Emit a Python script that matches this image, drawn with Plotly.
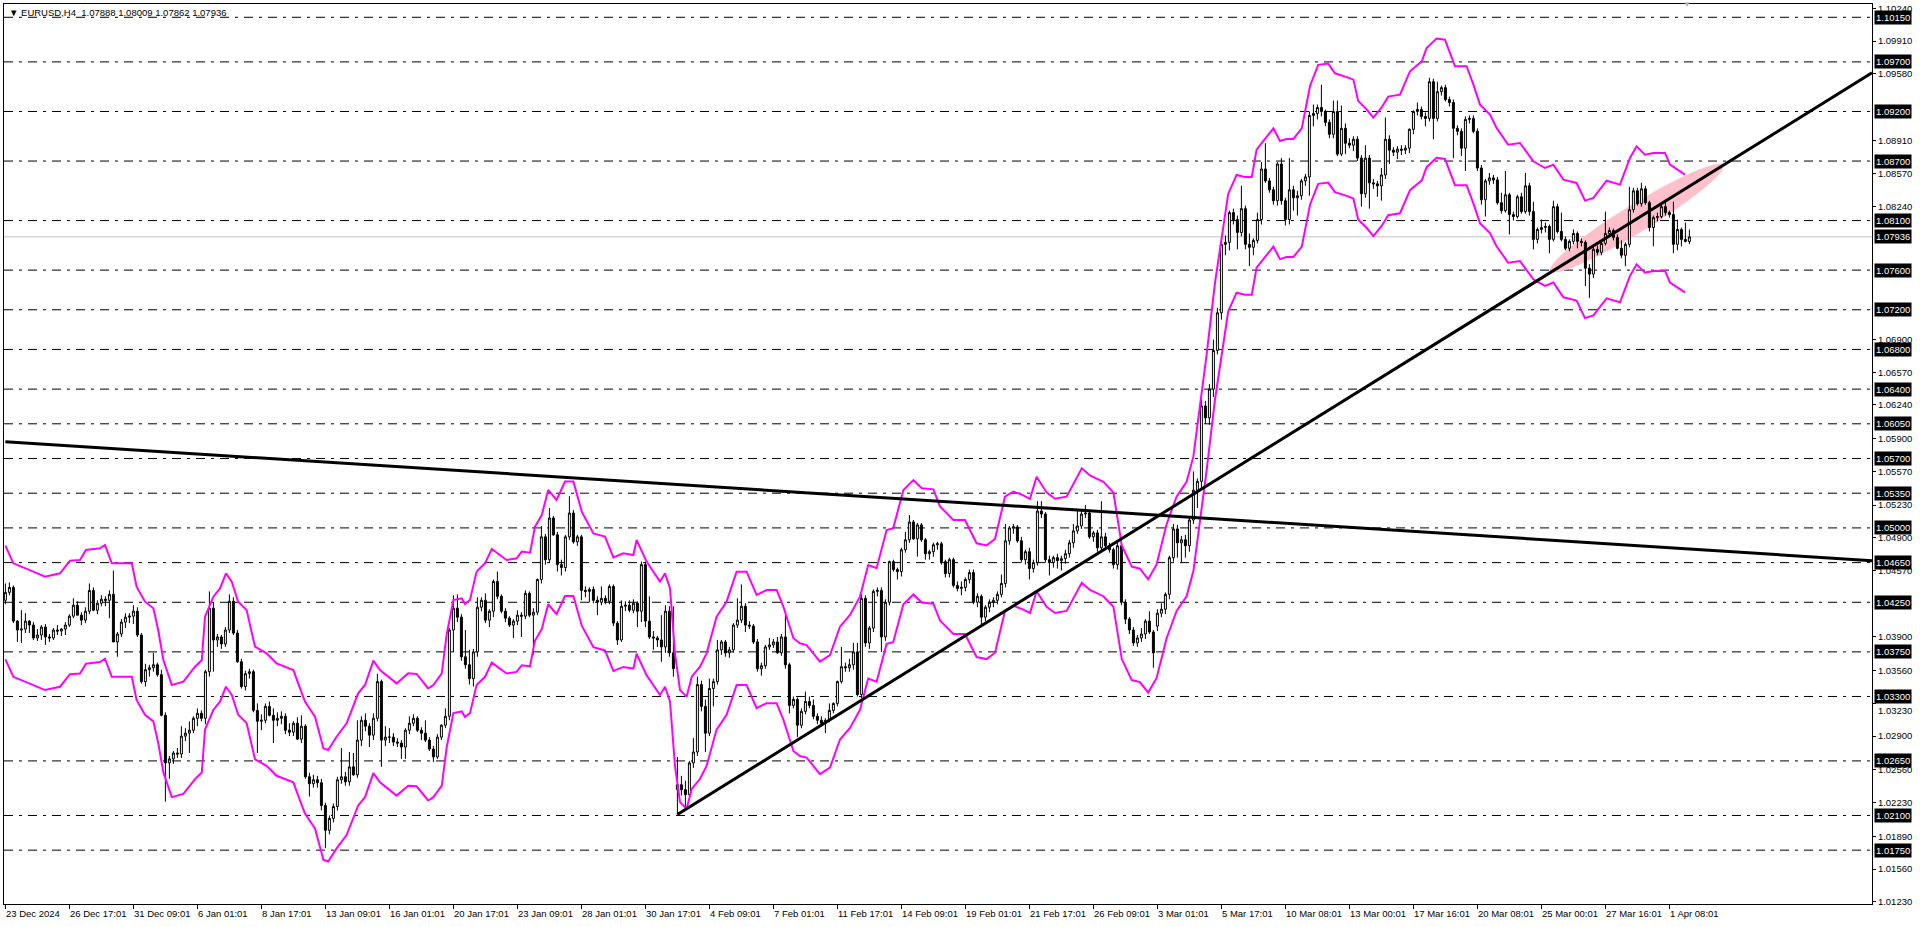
import math
import plotly.graph_objects as go

# ---------------- data ----------------
title_text = "EURUSD,H4"
last_ohlc = [1.07888, 1.08009, 1.07862, 1.07936]

opens = [
 1.0427, 1.0435, 1.0440, 1.0406, 1.0397, 1.0398, 1.0406, 1.0402, 1.0389, 1.0392,
 1.0400, 1.0390, 1.0389, 1.0397, 1.0396, 1.0398, 1.0402, 1.0411, 1.0422, 1.0412,
 1.0407, 1.0416, 1.0437, 1.0417, 1.0424, 1.0428, 1.0427, 1.0433, 1.0385, 1.0393,
 1.0405, 1.0410, 1.0411, 1.0416, 1.0392, 1.0345, 1.0357, 1.0359, 1.0362, 1.0352,
 1.0311, 1.0263, 1.0267, 1.0273, 1.0272, 1.0290, 1.0293, 1.0296, 1.0308, 1.0313,
 1.0308, 1.0355, 1.0419, 1.0387, 1.0390, 1.0383, 1.0397, 1.0426, 1.0394, 1.0365,
 1.0340, 1.0353, 1.0355, 1.0316, 1.0305, 1.0306, 1.0320, 1.0311, 1.0306, 1.0308,
 1.0310, 1.0296, 1.0294, 1.0303, 1.0287, 1.0300, 1.0249, 1.0242, 1.0246, 1.0243,
 1.0220, 1.0195, 1.0207, 1.0219, 1.0246, 1.0249, 1.0244, 1.0259, 1.0251, 1.0286,
 1.0306, 1.0300, 1.0291, 1.0308, 1.0345, 1.0286, 1.0289, 1.0289, 1.0284, 1.0283,
 1.0279, 1.0296, 1.0303, 1.0308, 1.0296, 1.0293, 1.0286, 1.0277, 1.0269, 1.0289,
 1.0301, 1.0310, 1.0397, 1.0419, 1.0410, 1.0370, 1.0362, 1.0348, 1.0375, 1.0420,
 1.0427, 1.0407, 1.0416, 1.0446, 1.0431, 1.0416, 1.0409, 1.0402, 1.0406, 1.0412,
 1.0411, 1.0434, 1.0412, 1.0415, 1.0448, 1.0491, 1.0468, 1.0510, 1.0493, 1.0463,
 1.0460, 1.0491, 1.0515, 1.0486, 1.0491, 1.0437, 1.0436, 1.0438, 1.0427, 1.0425,
 1.0429, 1.0426, 1.0441, 1.0404, 1.0387, 1.0421, 1.0422, 1.0417, 1.0424, 1.0416,
 1.0463, 1.0406, 1.0390, 1.0389, 1.0387, 1.0380, 1.0416, 1.0374, 1.0236, 1.0241,
 1.0236, 1.0231, 1.0263, 1.0274, 1.0342, 1.0320, 1.0293, 1.0338, 1.0345, 1.0377,
 1.0385, 1.0374, 1.0377, 1.0402, 1.0407, 1.0421, 1.0402, 1.0401, 1.0385, 1.0358,
 1.0361, 1.0380, 1.0382, 1.0385, 1.0374, 1.0390, 1.0362, 1.0321, 1.0327, 1.0301,
 1.0315, 1.0325, 1.0321, 1.0310, 1.0306, 1.0303, 1.0306, 1.0316, 1.0323, 1.0345,
 1.0360, 1.0359, 1.0362, 1.0375, 1.0332, 1.0429, 1.0384, 1.0399, 1.0436, 1.0437,
 1.0390, 1.0425, 1.0466, 1.0458, 1.0456, 1.0478, 1.0488, 1.0506, 1.0489, 1.0503,
 1.0488, 1.0474, 1.0476, 1.0483, 1.0484, 1.0466, 1.0454, 1.0468, 1.0442, 1.0439,
 1.0440, 1.0448, 1.0455, 1.0425, 1.0431, 1.0410, 1.0420, 1.0425, 1.0427, 1.0433,
 1.0444, 1.0487, 1.0500, 1.0501, 1.0487, 1.0468, 1.0476, 1.0459, 1.0465, 1.0517,
 1.0514, 1.0468, 1.0465, 1.0470, 1.0467, 1.0469, 1.0474, 1.0485, 1.0497, 1.0502,
 1.0514, 1.0515, 1.0491, 1.0495, 1.0480, 1.0491, 1.0482, 1.0478, 1.0463, 1.0482,
 1.0425, 1.0408, 1.0397, 1.0384, 1.0389, 1.0393, 1.0406, 1.0395, 1.0401, 1.0414,
 1.0418, 1.0433, 1.0470, 1.0499, 1.0485, 1.0488, 1.0482, 1.0508, 1.0538, 1.0547,
 1.0623, 1.0611, 1.0640, 1.0679, 1.0717, 1.0786, 1.0788, 1.0818, 1.0811, 1.0798,
 1.0822, 1.0786, 1.0783, 1.0790, 1.0811, 1.0862, 1.0850, 1.0841, 1.0830, 1.0867,
 1.0830, 1.0811, 1.0841, 1.0833, 1.0835, 1.0850, 1.0854, 1.0916, 1.0918, 1.0924,
 1.0920, 1.0909, 1.0897, 1.0920, 1.0877, 1.0903, 1.0888, 1.0886, 1.0892, 1.0873,
 1.0837, 1.0873, 1.0848, 1.0847, 1.0845, 1.0856, 1.0892, 1.0881, 1.0879, 1.0882,
 1.0881, 1.0883, 1.0902, 1.0920, 1.0922, 1.0915, 1.0913, 1.0950, 1.0913, 1.0940,
 1.0944, 1.0932, 1.0929, 1.0903, 1.0900, 1.0883, 1.0912, 1.0913, 1.0900, 1.0863,
 1.0831, 1.0850, 1.0853, 1.0851, 1.0828, 1.0820, 1.0836, 1.0816, 1.0814, 1.0834,
 1.0819, 1.0845, 1.0819, 1.0791, 1.0801, 1.0803, 1.0804, 1.0791, 1.0824, 1.0799,
 1.0791, 1.0782, 1.0789, 1.0797, 1.0789, 1.0788, 1.0762, 1.0756, 1.0781, 1.0778,
 1.0787, 1.0797, 1.0800, 1.0793, 1.0782, 1.0775, 1.0786, 1.0821, 1.0840, 1.0827,
 1.0842, 1.0828, 1.0803, 1.0813, 1.0814, 1.0824, 1.0818, 1.0816, 1.0786, 1.0801,
 1.0791, 1.07888,
]

highs = [
 1.0444, 1.0445, 1.0442, 1.0407, 1.0417, 1.0414, 1.0407, 1.0405, 1.0398, 1.0402,
 1.0403, 1.0393, 1.0399, 1.0402, 1.0399, 1.0405, 1.0413, 1.0429, 1.0426, 1.0415,
 1.0420, 1.0444, 1.0440, 1.0427, 1.0432, 1.0431, 1.0437, 1.0457, 1.0395, 1.0408,
 1.0414, 1.0414, 1.0422, 1.0420, 1.0394, 1.0363, 1.0362, 1.0374, 1.0364, 1.0357,
 1.0314, 1.0270, 1.0275, 1.0278, 1.0300, 1.0298, 1.0305, 1.0310, 1.0318, 1.0316,
 1.0357, 1.0436, 1.0425, 1.0393, 1.0392, 1.0400, 1.0433, 1.0430, 1.0397, 1.0368,
 1.0356, 1.0358, 1.0357, 1.0323, 1.0312, 1.0323, 1.0325, 1.0318, 1.0314, 1.0315,
 1.0313, 1.0303, 1.0305, 1.0309, 1.0311, 1.0302, 1.0253, 1.0251, 1.0250, 1.0247,
 1.0223, 1.0210, 1.0222, 1.0249, 1.0278, 1.0254, 1.0274, 1.0273, 1.0306, 1.0310,
 1.0313, 1.0303, 1.0313, 1.0353, 1.0347, 1.0300, 1.0298, 1.0293, 1.0288, 1.0286,
 1.0298, 1.0310, 1.0312, 1.0310, 1.0299, 1.0306, 1.0289, 1.0280, 1.0292, 1.0302,
 1.0318, 1.0399, 1.0432, 1.0433, 1.0413, 1.0397, 1.0377, 1.0378, 1.0430, 1.0430,
 1.0434, 1.0418, 1.0448, 1.0456, 1.0433, 1.0419, 1.0411, 1.0408, 1.0417, 1.0415,
 1.0437, 1.0436, 1.0419, 1.0449, 1.0502, 1.0494, 1.0520, 1.0512, 1.0496, 1.0468,
 1.0493, 1.0532, 1.0518, 1.0493, 1.0493, 1.0441, 1.0440, 1.0441, 1.0431, 1.0441,
 1.0432, 1.0443, 1.0443, 1.0406, 1.0427, 1.0426, 1.0427, 1.0428, 1.0426, 1.0466,
 1.0466, 1.0431, 1.0396, 1.0391, 1.0412, 1.0422, 1.0421, 1.0421, 1.0269, 1.0250,
 1.0245, 1.0265, 1.0288, 1.0350, 1.0346, 1.0327, 1.0348, 1.0348, 1.0387, 1.0387,
 1.0387, 1.0380, 1.0404, 1.0429, 1.0443, 1.0424, 1.0406, 1.0403, 1.0388, 1.0364,
 1.0382, 1.0389, 1.0388, 1.0390, 1.0393, 1.0412, 1.0364, 1.0330, 1.0329, 1.0318,
 1.0335, 1.0330, 1.0327, 1.0313, 1.0310, 1.0308, 1.0323, 1.0324, 1.0346, 1.0380,
 1.0364, 1.0368, 1.0384, 1.0384, 1.0433, 1.0432, 1.0401, 1.0438, 1.0440, 1.0440,
 1.0428, 1.0467, 1.0468, 1.0460, 1.0480, 1.0496, 1.0513, 1.0508, 1.0505, 1.0505,
 1.0490, 1.0478, 1.0485, 1.0486, 1.0486, 1.0468, 1.0470, 1.0470, 1.0446, 1.0446,
 1.0450, 1.0458, 1.0458, 1.0434, 1.0433, 1.0422, 1.0428, 1.0430, 1.0436, 1.0453,
 1.0504, 1.0502, 1.0504, 1.0503, 1.0491, 1.0478, 1.0480, 1.0468, 1.0527, 1.0527,
 1.0516, 1.0472, 1.0472, 1.0474, 1.0472, 1.0478, 1.0488, 1.0504, 1.0517, 1.0519,
 1.0523, 1.0518, 1.0497, 1.0498, 1.0527, 1.0495, 1.0485, 1.0480, 1.0485, 1.0486,
 1.0428, 1.0410, 1.0400, 1.0392, 1.0399, 1.0408, 1.0416, 1.0397, 1.0418, 1.0424,
 1.0435, 1.0472, 1.0504, 1.0503, 1.0492, 1.0493, 1.0510, 1.0557, 1.0550, 1.0630,
 1.0628, 1.0645, 1.0690, 1.0722, 1.0788, 1.0795, 1.0820, 1.0822, 1.0815, 1.0845,
 1.0825, 1.0797, 1.0792, 1.0818, 1.0869, 1.0888, 1.0853, 1.0844, 1.0869, 1.0873,
 1.0833, 1.0873, 1.0845, 1.0840, 1.0852, 1.0857, 1.0920, 1.0927, 1.0927, 1.0947,
 1.0922, 1.0912, 1.0931, 1.0931, 1.0926, 1.0908, 1.0893, 1.0895, 1.0895, 1.0876,
 1.0886, 1.0876, 1.0852, 1.0850, 1.0863, 1.0914, 1.0896, 1.0884, 1.0885, 1.0886,
 1.0886, 1.0903, 1.0921, 1.0929, 1.0925, 1.0919, 1.0954, 1.0953, 1.0950, 1.0946,
 1.0947, 1.0935, 1.0932, 1.0906, 1.0903, 1.0915, 1.0916, 1.0916, 1.0903, 1.0866,
 1.0852, 1.0858, 1.0856, 1.0854, 1.0838, 1.0860, 1.0838, 1.0819, 1.0836, 1.0838,
 1.0858, 1.0848, 1.0829, 1.0803, 1.0811, 1.0808, 1.0806, 1.0830, 1.0827, 1.0818,
 1.0794, 1.0791, 1.0801, 1.0799, 1.0792, 1.0790, 1.0766, 1.0784, 1.0785, 1.0790,
 1.0819, 1.0803, 1.0802, 1.0796, 1.0790, 1.0788, 1.0844, 1.0843, 1.0843, 1.0848,
 1.0845, 1.0830, 1.0815, 1.0818, 1.0826, 1.0831, 1.0820, 1.0829, 1.0811, 1.0803,
 1.0808, 1.08009,
]

lows = [
 1.0423, 1.0432, 1.0404, 1.0385, 1.0384, 1.0394, 1.0394, 1.0387, 1.0386, 1.0387,
 1.0382, 1.0385, 1.0387, 1.0392, 1.0391, 1.0392, 1.0400, 1.0409, 1.0412, 1.0402,
 1.0404, 1.0413, 1.0416, 1.0413, 1.0421, 1.0421, 1.0409, 1.0385, 1.0370, 1.0390,
 1.0399, 1.0404, 1.0403, 1.0390, 1.0343, 1.0340, 1.0350, 1.0355, 1.0350, 1.0310,
 1.0224, 1.0247, 1.0262, 1.0268, 1.0268, 1.0285, 1.0273, 1.0293, 1.0300, 1.0305,
 1.0302, 1.0350, 1.0355, 1.0380, 1.0378, 1.0380, 1.0394, 1.0392, 1.0364, 1.0338,
 1.0336, 1.0348, 1.0314, 1.0273, 1.0296, 1.0303, 1.0310, 1.0283, 1.0300, 1.0302,
 1.0292, 1.0290, 1.0290, 1.0286, 1.0283, 1.0247, 1.0229, 1.0238, 1.0238, 1.0215,
 1.0177, 1.0191, 1.0203, 1.0215, 1.0242, 1.0240, 1.0240, 1.0250, 1.0248, 1.0280,
 1.0295, 1.0279, 1.0286, 1.0305, 1.0259, 1.0280, 1.0283, 1.0280, 1.0279, 1.0267,
 1.0267, 1.0292, 1.0300, 1.0294, 1.0286, 1.0284, 1.0275, 1.0264, 1.0267, 1.0286,
 1.0298, 1.0306, 1.0375, 1.0405, 1.0366, 1.0358, 1.0342, 1.0340, 1.0370, 1.0416,
 1.0404, 1.0400, 1.0410, 1.0428, 1.0414, 1.0405, 1.0400, 1.0389, 1.0402, 1.0390,
 1.0408, 1.0410, 1.0372, 1.0412, 1.0444, 1.0463, 1.0465, 1.0492, 1.0456, 1.0452,
 1.0456, 1.0488, 1.0484, 1.0482, 1.0427, 1.0430, 1.0425, 1.0424, 1.0412, 1.0422,
 1.0423, 1.0423, 1.0401, 1.0382, 1.0385, 1.0416, 1.0415, 1.0414, 1.0400, 1.0405,
 1.0400, 1.0388, 1.0377, 1.0380, 1.0365, 1.0374, 1.0370, 1.0350, 1.0211, 1.0230,
 1.0217, 1.0229, 1.0258, 1.0270, 1.0315, 1.0274, 1.0290, 1.0320, 1.0342, 1.0372,
 1.0370, 1.0369, 1.0374, 1.0399, 1.0404, 1.0395, 1.0398, 1.0383, 1.0355, 1.0351,
 1.0358, 1.0377, 1.0379, 1.0373, 1.0371, 1.0358, 1.0313, 1.0318, 1.0289, 1.0298,
 1.0312, 1.0318, 1.0307, 1.0302, 1.0300, 1.0293, 1.0304, 1.0313, 1.0320, 1.0343,
 1.0355, 1.0355, 1.0357, 1.0330, 1.0328, 1.0380, 1.0378, 1.0395, 1.0431, 1.0375,
 1.0386, 1.0422, 1.0456, 1.0448, 1.0451, 1.0475, 1.0485, 1.0488, 1.0471, 1.0486,
 1.0468, 1.0468, 1.0471, 1.0478, 1.0463, 1.0450, 1.0450, 1.0440, 1.0436, 1.0432,
 1.0436, 1.0444, 1.0423, 1.0420, 1.0401, 1.0406, 1.0415, 1.0420, 1.0423, 1.0430,
 1.0440, 1.0483, 1.0494, 1.0485, 1.0465, 1.0463, 1.0448, 1.0455, 1.0462, 1.0510,
 1.0465, 1.0452, 1.0460, 1.0459, 1.0457, 1.0464, 1.0470, 1.0480, 1.0494, 1.0499,
 1.0510, 1.0489, 1.0486, 1.0476, 1.0476, 1.0479, 1.0475, 1.0459, 1.0458, 1.0422,
 1.0403, 1.0393, 1.0381, 1.0380, 1.0385, 1.0388, 1.0393, 1.0359, 1.0396, 1.0410,
 1.0413, 1.0428, 1.0466, 1.0470, 1.0465, 1.0470, 1.0476, 1.0504, 1.0520, 1.0540,
 1.0605, 1.0604, 1.0632, 1.0675, 1.0710, 1.0775, 1.0780, 1.0806, 1.0781, 1.0794,
 1.0781, 1.0764, 1.0775, 1.0787, 1.0806, 1.0848, 1.0838, 1.0826, 1.0825, 1.0826,
 1.0805, 1.0806, 1.0820, 1.0815, 1.0831, 1.0845, 1.0835, 1.0905, 1.0912, 1.0915,
 1.0905, 1.0893, 1.0893, 1.0875, 1.0875, 1.0877, 1.0883, 1.0880, 1.0870, 1.0824,
 1.0833, 1.0822, 1.0842, 1.0834, 1.0830, 1.0852, 1.0867, 1.0875, 1.0872, 1.0876,
 1.0877, 1.0878, 1.0897, 1.0916, 1.0912, 1.0905, 1.0910, 1.0892, 1.0910, 1.0936,
 1.0930, 1.0925, 1.0873, 1.0896, 1.0875, 1.0860, 1.0908, 1.0898, 1.0860, 1.0826,
 1.0814, 1.0846, 1.0847, 1.0826, 1.0817, 1.0818, 1.0796, 1.0810, 1.0812, 1.0817,
 1.0817, 1.0815, 1.0781, 1.0787, 1.0797, 1.0798, 1.0777, 1.0789, 1.0797, 1.0789,
 1.0780, 1.0779, 1.0786, 1.0782, 1.0784, 1.0744, 1.0732, 1.0752, 1.0775, 1.0775,
 1.0785, 1.0793, 1.0790, 1.0781, 1.0772, 1.0764, 1.0783, 1.0818, 1.0825, 1.0824,
 1.0826, 1.0799, 1.0784, 1.0809, 1.0812, 1.0815, 1.0813, 1.0777, 1.0780, 1.0784,
 1.0788, 1.07862,
]

closes = [
 1.0435, 1.0440, 1.0406, 1.0397, 1.0398, 1.0406, 1.0402, 1.0389, 1.0392, 1.0400,
 1.0390, 1.0389, 1.0397, 1.0396, 1.0398, 1.0402, 1.0411, 1.0422, 1.0412, 1.0407,
 1.0416, 1.0437, 1.0417, 1.0424, 1.0428, 1.0427, 1.0433, 1.0385, 1.0393, 1.0405,
 1.0410, 1.0411, 1.0416, 1.0392, 1.0345, 1.0357, 1.0359, 1.0362, 1.0352, 1.0311,
 1.0263, 1.0267, 1.0273, 1.0272, 1.0290, 1.0293, 1.0296, 1.0308, 1.0313, 1.0308,
 1.0355, 1.0419, 1.0387, 1.0390, 1.0383, 1.0397, 1.0426, 1.0394, 1.0365, 1.0340,
 1.0353, 1.0355, 1.0316, 1.0305, 1.0306, 1.0320, 1.0311, 1.0306, 1.0308, 1.0310,
 1.0296, 1.0294, 1.0303, 1.0287, 1.0300, 1.0249, 1.0242, 1.0246, 1.0243, 1.0220,
 1.0195, 1.0207, 1.0219, 1.0246, 1.0249, 1.0244, 1.0259, 1.0251, 1.0286, 1.0306,
 1.0300, 1.0291, 1.0308, 1.0345, 1.0286, 1.0289, 1.0289, 1.0284, 1.0283, 1.0279,
 1.0296, 1.0303, 1.0308, 1.0296, 1.0293, 1.0286, 1.0277, 1.0269, 1.0289, 1.0301,
 1.0310, 1.0397, 1.0419, 1.0410, 1.0370, 1.0362, 1.0348, 1.0375, 1.0420, 1.0427,
 1.0407, 1.0416, 1.0446, 1.0431, 1.0416, 1.0409, 1.0402, 1.0406, 1.0412, 1.0411,
 1.0434, 1.0412, 1.0415, 1.0448, 1.0491, 1.0468, 1.0510, 1.0493, 1.0463, 1.0460,
 1.0491, 1.0515, 1.0486, 1.0491, 1.0437, 1.0436, 1.0438, 1.0427, 1.0425, 1.0429,
 1.0426, 1.0441, 1.0404, 1.0387, 1.0421, 1.0422, 1.0417, 1.0424, 1.0416, 1.0463,
 1.0406, 1.0390, 1.0389, 1.0387, 1.0380, 1.0416, 1.0374, 1.0358, 1.0241, 1.0236,
 1.0231, 1.0263, 1.0274, 1.0342, 1.0320, 1.0293, 1.0338, 1.0345, 1.0377, 1.0385,
 1.0374, 1.0377, 1.0402, 1.0407, 1.0421, 1.0402, 1.0401, 1.0385, 1.0358, 1.0361,
 1.0380, 1.0382, 1.0385, 1.0374, 1.0390, 1.0362, 1.0321, 1.0327, 1.0301, 1.0315,
 1.0325, 1.0321, 1.0310, 1.0306, 1.0303, 1.0306, 1.0316, 1.0323, 1.0345, 1.0360,
 1.0359, 1.0362, 1.0375, 1.0332, 1.0429, 1.0384, 1.0399, 1.0436, 1.0437, 1.0390,
 1.0425, 1.0466, 1.0458, 1.0456, 1.0478, 1.0488, 1.0506, 1.0489, 1.0503, 1.0488,
 1.0474, 1.0476, 1.0483, 1.0484, 1.0466, 1.0454, 1.0468, 1.0442, 1.0439, 1.0440,
 1.0448, 1.0455, 1.0425, 1.0431, 1.0410, 1.0420, 1.0425, 1.0427, 1.0433, 1.0444,
 1.0487, 1.0500, 1.0501, 1.0487, 1.0468, 1.0476, 1.0459, 1.0465, 1.0517, 1.0514,
 1.0468, 1.0465, 1.0470, 1.0467, 1.0469, 1.0474, 1.0485, 1.0497, 1.0502, 1.0514,
 1.0515, 1.0491, 1.0495, 1.0480, 1.0491, 1.0482, 1.0478, 1.0463, 1.0482, 1.0425,
 1.0408, 1.0397, 1.0384, 1.0389, 1.0393, 1.0406, 1.0395, 1.0374, 1.0414, 1.0418,
 1.0433, 1.0470, 1.0499, 1.0485, 1.0488, 1.0482, 1.0508, 1.0538, 1.0547, 1.0623,
 1.0611, 1.0640, 1.0679, 1.0717, 1.0786, 1.0788, 1.0818, 1.0811, 1.0798, 1.0822,
 1.0786, 1.0783, 1.0790, 1.0811, 1.0862, 1.0850, 1.0841, 1.0830, 1.0867, 1.0830,
 1.0811, 1.0841, 1.0833, 1.0835, 1.0850, 1.0854, 1.0916, 1.0918, 1.0924, 1.0920,
 1.0909, 1.0897, 1.0920, 1.0877, 1.0903, 1.0888, 1.0886, 1.0892, 1.0873, 1.0837,
 1.0873, 1.0848, 1.0847, 1.0845, 1.0856, 1.0892, 1.0881, 1.0879, 1.0882, 1.0881,
 1.0883, 1.0902, 1.0920, 1.0922, 1.0915, 1.0913, 1.0950, 1.0913, 1.0940, 1.0944,
 1.0932, 1.0929, 1.0903, 1.0900, 1.0883, 1.0912, 1.0913, 1.0900, 1.0863, 1.0831,
 1.0850, 1.0853, 1.0851, 1.0828, 1.0820, 1.0836, 1.0816, 1.0814, 1.0834, 1.0819,
 1.0845, 1.0819, 1.0791, 1.0801, 1.0803, 1.0804, 1.0791, 1.0824, 1.0799, 1.0791,
 1.0782, 1.0789, 1.0797, 1.0789, 1.0788, 1.0762, 1.0756, 1.0781, 1.0778, 1.0787,
 1.0797, 1.0800, 1.0793, 1.0782, 1.0775, 1.0786, 1.0821, 1.0840, 1.0827, 1.0842,
 1.0828, 1.0803, 1.0813, 1.0814, 1.0824, 1.0818, 1.0816, 1.0786, 1.0801, 1.0791,
 1.0789, 1.07936,
]

time_labels = [
 "23 Dec 2024", "26 Dec 17:01", "31 Dec 09:01", "6 Jan 01:01", "8 Jan 17:01",
 "13 Jan 09:01", "16 Jan 01:01", "20 Jan 17:01", "23 Jan 09:01", "28 Jan 01:01",
 "30 Jan 17:01", "4 Feb 09:01", "7 Feb 01:01", "11 Feb 17:01", "14 Feb 09:01",
 "19 Feb 01:01", "21 Feb 17:01", "26 Feb 09:01", "3 Mar 01:01", "5 Mar 17:01",
 "10 Mar 08:01", "13 Mar 00:01", "17 Mar 16:01", "20 Mar 08:01", "25 Mar 00:01",
 "27 Mar 16:01", "1 Apr 08:01",
]
bars_per_label = 16

# visible right-axis scale values (those hidden under line labels are left out)
price_ticks = [
 1.10240, 1.09910, 1.09580, 1.08910, 1.08570, 1.08240,
 1.06900, 1.06570, 1.06240, 1.05900, 1.05570, 1.05230,
 1.04900, 1.04570, 1.03900, 1.03560, 1.03230, 1.02900, 1.02560,
 1.02230, 1.01890, 1.01560, 1.01230,
]
# scale values drawn just below a line label (text nudged so it stays readable)
nudged_ticks = [1.03230]

h_levels = [
 1.10150, 1.09700, 1.09200, 1.08700, 1.08100, 1.07600, 1.07200, 1.06800,
 1.06400, 1.06050, 1.05700, 1.05350, 1.05000, 1.04650, 1.04250, 1.03750,
 1.03300, 1.02650, 1.02100, 1.01750,
]
bid_price = 1.07936

# Envelopes indicator: upper band, deviation in %
env_bar = [
 0, 2.0, 7.0, 9.9, 13.65, 16.15, 18.65, 20.15, 23.65, 24.9,
 26.6, 31.6, 32.8, 34.9, 37.0, 38.2, 39.5, 41.6, 44.5, 47.4,
 49.1, 49.9, 52.0, 53.65, 55.15, 56.6, 58.2, 60.3, 62.4, 65.3,
 67.8, 69.9, 72.0, 73.2, 74.9, 77.4, 79.5, 80.7, 82.8, 85.3,
 88.2, 89.9, 92.0, 93.65, 97.8, 100.7, 102.8, 105.7, 107.0, 109.1,
 110.3, 112.0, 114.1, 114.9,
 116.15, 117.8, 119.9, 121.6, 125.3, 127.8, 129.1, 131.15, 132.4, 134.1,
 135.7, 137.8, 139.9, 142.0, 144.1, 147.0, 149.9, 152.0, 154.5, 157.0,
 157.8, 160.3, 163.65, 164.9, 166.15, 167.4, 168.65, 170.3, 171.6, 173.65,
 175.3, 177.8, 180.3, 182.8, 185.3, 187.8, 190.3, 192.8, 194.5, 197.0,
 198.65, 200.3, 203.65, 206.15, 208.65, 211.15, 213.65, 215.7, 217.8, 220.3,
 221.95, 224.5, 227.0, 229.1, 232.0,
 233.65, 237.0, 239.9, 242.8, 245.3, 247.4, 249.9, 252.0, 254.1, 256.15,
 257.8, 260.3, 262.4, 265.3, 269.1, 271.15, 274.5, 277.0, 279.1, 281.6,
 283.65, 285.7, 287.8, 290.3, 292.8, 295.3, 297.0, 298.65, 300.3, 302.4,
 304.5, 305.7, 307.8, 309.9, 311.6, 312.8, 314.9, 317.0, 318.65, 320.3,
 322.0, 324.1, 326.15, 328.2, 330.7, 332.4, 335.7, 337.0, 338.2, 340.3,
 342.0, 344.1, 345.7,
 348.65, 351.15, 354.1, 355.3, 357.8, 359.9, 362.4, 365.3, 367.0, 368.65,
 371.15, 372.8, 375.7, 378.65, 380.7, 382.0, 384.9, 387.0, 389.5, 392.8,
 394.9, 397.0, 400.3, 403.65, 406.15, 407.8, 409.9, 412.0, 414.9, 416.15,
 419.9,
]
env_upper = [
 1.04821, 1.04643, 1.04559, 1.04508, 1.04542, 1.04670, 1.04676, 1.04777, 1.04794, 1.04828,
 1.04643, 1.04643, 1.04407, 1.04256, 1.04189, 1.03970, 1.03668, 1.03416, 1.03449, 1.03600,
 1.03668, 1.04105, 1.04306, 1.04390, 1.04542, 1.04458, 1.04256, 1.04172, 1.03802, 1.03735,
 1.03634, 1.03600, 1.03567, 1.03432, 1.03248, 1.03096, 1.02777, 1.02760, 1.02894, 1.03029,
 1.03332, 1.03416, 1.03661, 1.03567, 1.03432, 1.03533, 1.03527, 1.03382, 1.03416, 1.03533,
 1.03920, 1.04273, 1.04290, 1.04233,
 1.04273, 1.04559, 1.04643, 1.04788, 1.04677, 1.04693, 1.04761, 1.04750, 1.05013, 1.05130,
 1.05383, 1.05282, 1.05467, 1.05467, 1.05164, 1.04945, 1.04912, 1.04703, 1.04744, 1.04727,
 1.04878, 1.04660, 1.04458, 1.04542, 1.04391, 1.03735, 1.03365, 1.03298, 1.03500, 1.03601,
 1.03735, 1.04105, 1.04256, 1.04559, 1.04559, 1.04324, 1.04374, 1.04374, 1.04206, 1.03887,
 1.03836, 1.03819, 1.03651, 1.03718, 1.04004, 1.04122, 1.04307, 1.04626, 1.04593, 1.04979,
 1.04996, 1.05383, 1.05483, 1.05400, 1.05389,
 1.05217, 1.05080, 1.05080, 1.04845, 1.04824, 1.04888, 1.05315, 1.05366, 1.05336, 1.05294,
 1.05516, 1.05358, 1.05294, 1.05315, 1.05601, 1.05529, 1.05465, 1.05358, 1.04824, 1.04610,
 1.04589, 1.04482, 1.04632, 1.05037, 1.05315, 1.05465, 1.05721, 1.06233, 1.06746, 1.07471,
 1.08027, 1.08368, 1.08560, 1.08539, 1.08539, 1.08816, 1.08923, 1.09030, 1.08902, 1.08923,
 1.08923, 1.09030, 1.09457, 1.09670, 1.09683, 1.09585, 1.09542, 1.09521, 1.09307, 1.09222,
 1.09137, 1.09243, 1.09350,
 1.09370, 1.09605, 1.09706, 1.09840, 1.09935, 1.09924, 1.09656, 1.09656, 1.09471, 1.09269,
 1.09168, 1.09034, 1.08865, 1.08882, 1.08765, 1.08697, 1.08630, 1.08664, 1.08513, 1.08479,
 1.08301, 1.08328, 1.08502, 1.08462, 1.08731, 1.08849, 1.08765, 1.08782, 1.08782, 1.08664,
 1.08563,
]
env_deviation = 0.0055

# drawn objects (bar index, price)
trend_down = [(0.0, 1.0587), (466.65, 1.0467)]
trend_up = [(168.0, 1.0211), (466.65, 1.0959)]
ellipse_ends = [(386.2, 1.0759), (429.5, 1.0866)]
ellipse_half_width_px = 14

# ---------------- layout geometry ----------------
W, H = 1920, 927
M_L, M_R, M_T, M_B = 4, 48, 4, 23
PLOT_W = W - M_L - M_R
PLOT_H = H - M_T - M_B
X_MIN, X_MAX = -0.35, 466.65
Y_MIN, Y_MAX = 1.01207, 1.10284
FONT = "Liberation Sans, Arial, sans-serif"
FS = 9.5

bars = list(range(len(closes)))

fig = go.Figure()

fig.add_trace(go.Candlestick(
    x=bars, open=opens, high=highs, low=lows, close=closes,
    increasing=dict(line=dict(color="black", width=1), fillcolor="white"),
    decreasing=dict(line=dict(color="black", width=1), fillcolor="black"),
    whiskerwidth=0, hoverinfo="skip", showlegend=False,
))

env_mid = [u / (1 + env_deviation) for u in env_upper]
env_lower = [m * (1 - env_deviation) for m in env_mid]
for band in (env_upper, env_lower):
    fig.add_trace(go.Scatter(
        x=env_bar, y=band, mode="lines",
        line=dict(color="#FF00FF", width=2),
        hoverinfo="skip", showlegend=False,
    ))

# ellipse outline built from its two end anchors
def ellipse_path():
    (b1, p1), (b2, p2) = ellipse_ends
    ppb = PLOT_W / (X_MAX - X_MIN)
    ppp = PLOT_H / (Y_MAX - Y_MIN)
    X1, Y1, X2, Y2 = b1 * ppb, p1 * ppp, b2 * ppb, p2 * ppp
    cx, cy = (X1 + X2) / 2, (Y1 + Y2) / 2
    a = math.hypot(X2 - X1, Y2 - Y1) / 2
    th = math.atan2(Y2 - Y1, X2 - X1)
    b = ellipse_half_width_px
    pts = []
    for k in range(90):
        t = 2 * math.pi * k / 90
        X = cx + a * math.cos(t) * math.cos(th) - b * math.sin(t) * math.sin(th)
        Y = cy + a * math.cos(t) * math.sin(th) + b * math.sin(t) * math.cos(th)
        pts.append((X / ppb, Y / ppp))
    return "M " + " L ".join(f"{x:.4f},{y:.6f}" for x, y in pts) + " Z"

shapes = [dict(type="path", xref="x", yref="y", path=ellipse_path(),
               fillcolor="#FFC0CB", line=dict(width=0), layer="below")]
for lv in h_levels:
    shapes.append(dict(type="line", xref="paper", x0=0, x1=1, yref="y", y0=lv, y1=lv,
                       line=dict(color="black", width=1, dash="9px,6px,3px,6px"),
                       layer="below"))
shapes.append(dict(type="line", xref="paper", x0=0, x1=1, yref="y",
                   y0=bid_price, y1=bid_price,
                   line=dict(color="#C0C0C0", width=1), layer="below"))
for seg in (trend_down, trend_up):
    (xa, ya), (xb, yb) = seg
    shapes.append(dict(type="line", xref="x", yref="y", x0=xa, y0=ya, x1=xb, y1=yb,
                       line=dict(color="black", width=3), layer="above"))

annotations = []
# date labels, left-aligned at their tick like the terminal does
for i, lab in enumerate(time_labels):
    annotations.append(dict(x=i * bars_per_label, xref="x", y=0, yref="paper",
                            text=lab, showarrow=False, xanchor="left", yanchor="top",
                            xshift=0, yshift=-3, borderpad=0,
                            font=dict(family=FONT, size=FS, color="black")))
# black price labels of the horizontal lines
for lv in h_levels + [bid_price]:
    annotations.append(dict(x=1, xref="paper", y=lv, yref="y", text=f"{lv:.5f}",
                            showarrow=False, xanchor="left", yanchor="middle",
                            xshift=2, bgcolor="black", borderpad=1,
                            font=dict(family=FONT, size=FS, color="white")))
# scale values sitting right under a line label
for tv in nudged_ticks:
    annotations.append(dict(x=1, xref="paper", y=tv, yref="y", text=f"{tv:.5f}",
                            showarrow=False, xanchor="left", yanchor="top",
                            xshift=5, yshift=-1, borderpad=0,
                            font=dict(family=FONT, size=FS, color="black")))
# title line
head = "\u25BC " + title_text + "\u00a0\u00a0" + " ".join(f"{v:.5f}" for v in last_ohlc)
annotations.append(dict(x=4 / PLOT_W, xref="paper", y=1, yref="paper", text=head,
                        showarrow=False, xanchor="left", yanchor="top", yshift=-2,
                        borderpad=0,
                        font=dict(family=FONT, size=FS, color="black")))
# chart-shift marker
annotations.append(dict(x=420.5, xref="x", y=1, yref="paper", text="\u25BC",
                        showarrow=False, xanchor="center", yanchor="middle",
                        borderpad=0,
                        font=dict(family=FONT, size=8, color="#B0B0B0")))

tick_text = ["" if t in nudged_ticks else f"{t:.5f}" for t in price_ticks]

fig.update_layout(
    template="none",
    width=W, height=H,
    margin=dict(l=M_L, r=M_R, t=M_T, b=M_B, pad=0, autoexpand=False),
    paper_bgcolor="white", plot_bgcolor="white",
    showlegend=False, hovermode=False,
    boxgap=0.3,
    font=dict(family=FONT, size=FS, color="black"),
    xaxis=dict(range=[X_MIN, X_MAX], showgrid=False, zeroline=False,
               showline=True, linecolor="black", linewidth=1, mirror=True,
               ticks="outside", ticklen=4, tickcolor="black", tickwidth=1,
               tickvals=[i * bars_per_label for i in range(len(time_labels))],
               showticklabels=False, rangeslider=dict(visible=False),
               automargin=False, fixedrange=True),
    yaxis=dict(range=[Y_MIN, Y_MAX], side="right", showgrid=False, zeroline=False,
               showline=True, linecolor="black", linewidth=1, mirror=True,
               ticks="outside", ticklen=3, tickcolor="black", tickwidth=1,
               tickvals=price_ticks, ticktext=tick_text,
               tickfont=dict(family=FONT, size=FS, color="black"),
               automargin=False, fixedrange=True),
    shapes=shapes,
    annotations=annotations,
)

# remove the page margin so the 1920x927 figure fills the window exactly
page_css = ("document.body.style.margin='0';"
            "document.body.style.padding='0';"
            "document.body.style.overflow='hidden';")

fig.write_html("out.html", config={"displayModeBar": False}, post_script=page_css)
